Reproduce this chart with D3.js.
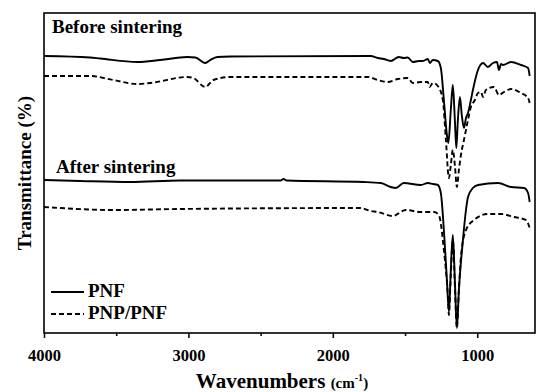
<!DOCTYPE html>
<html><head><meta charset="utf-8">
<script src="https://cdn.jsdelivr.net/npm/d3@7"></script>
<style>
html,body{margin:0;padding:0;background:#fff;}
</style></head>
<body><svg id="chart" width="554" height="392"></svg>
<script>
// Wavenumber (cm-1) / transmittance (arbitrary offset units)
const beforePNF_wn = [4000,3681,3611,3355,3195,3008,2952,2883,2848,2800,2709,1738,1689,1647,1599,1543,1509,1481,1446,1404,1377,1342,1328,1307,1273,1252,1231,1210,1200,1183,1169,1155,1145,1134,1120,1107,1092,1078,1064,1044,1030,995,960,926,891,863,850,835,822,766,697,648,637];
const beforePNF_T  = [277,275.5,274.5,271,273,276,275.5,270,273,276,276.5,277,275,274,272,276,275,275.5,271,272,272,274,270,273,272,265,233,198,190,223,248,213,185,213,236,218,205,215,220,233,243,263,270,266,270,271,263,269,268,271,268,265,257];

const beforePNP_wn = [4000,3681,3521,3355,3264,3008,2966,2883,2827,2709,1758,1689,1620,1550,1481,1446,1391,1342,1331,1307,1273,1238,1217,1196,1183,1169,1155,1141,1127,1113,1092,1064,1044,1016,995,974,960,940,884,850,815,766,697,648,637];
const beforePNP_T  = [257,257,253,249,250,256,255,246,253,256,256,253,251,254,255,250,251,251,246,250,247,233,193,155,168,183,168,146,163,178,193,213,226,233,240,241,236,243,246,238,241,244,240,235,230];

const afterPNF_wn = [4000,3750,3403,3056,2362,2341,2320,1786,1668,1599,1564,1509,1391,1342,1307,1273,1252,1231,1210,1196,1183,1169,1155,1141,1127,1099,1078,1064,1030,995,856,766,676,648,637];
const afterPNF_T  = [153,152,151,152.5,152.5,154,152.5,151,150,146,145,150,148,150,149,148,140,103,53,21,63,98,53,5,43,93,123,136,145,148,150,146,145,140,131];

const afterPNP_wn = [4000,3521,3056,1807,1738,1689,1585,1495,1391,1300,1266,1231,1203,1196,1183,1169,1155,1141,1127,1113,1078,1023,926,835,745,662,637];
const afterPNP_T  = [126,123,124,125,122,121,117,123,121,121,118,83,36,18,58,93,48,5,43,76,103,113,119,119,116,113,105];

const majorTicks = [4000,3000,2000,1000];
const minorTicks = [3500,2500,1500];
const panelLabels = ["Before sintering","After sintering"];
const seriesNames = ["PNF","PNP/PNF"];

const FONT = "'Liberation Serif', 'Times New Roman', Times, serif";
const svg = d3.select("#chart");
const m = {left:44, right:535, top:13, bottom:333};
const x = d3.scaleLinear().domain([4000,600]).range([m.left,m.right]);
const y = d3.scaleLinear().domain([0,320]).range([m.bottom,m.top]);

const line = d3.line().x(d=>x(d[0])).y(d=>y(d[1])).curve(d3.curveMonotoneX);
const zip = (a,b)=>a.map((v,i)=>[v,b[i]]);

const series = [
  {d:zip(beforePNF_wn,beforePNF_T), dash:null},
  {d:zip(beforePNP_wn,beforePNP_T), dash:"5,3"},
  {d:zip(afterPNF_wn,afterPNF_T), dash:null},
  {d:zip(afterPNP_wn,afterPNP_T), dash:"5,3"}
];
series.forEach(s=>{
  svg.append("path").attr("d",line(s.d)).attr("fill","none").attr("stroke","#000")
    .attr("stroke-width",1.9).attr("stroke-dasharray",s.dash);
});

// frame
svg.append("rect").attr("x",m.left).attr("y",m.top).attr("width",m.right-m.left).attr("height",m.bottom-m.top)
  .attr("fill","none").attr("stroke","#000").attr("stroke-width",1.6);

function txt(sel){ return sel.attr("font-family",FONT).attr("font-weight","bold").attr("fill","#000"); }

// bottom axis
const ax = svg.append("g").attr("transform",`translate(0,${m.bottom})`)
  .call(d3.axisBottom(x).tickValues(majorTicks).tickSize(5).tickSizeOuter(0).tickFormat(d3.format("d")));
ax.attr("font-family",FONT);
ax.select(".domain").remove();
ax.selectAll(".tick line").attr("stroke","#000").attr("stroke-width",1.5);
txt(ax.selectAll(".tick text")).attr("font-size",16.5).attr("dy","1.2em");
const axm = svg.append("g").attr("transform",`translate(0,${m.bottom})`)
  .call(d3.axisBottom(x).tickValues(minorTicks).tickSize(3).tickFormat(""));
axm.select(".domain").remove();
axm.selectAll(".tick line").attr("stroke","#000").attr("stroke-width",1.5);

// axis titles
const xt = txt(svg.append("text")).attr("x",282).attr("y",388).attr("text-anchor","middle").attr("font-size",21);
xt.append("tspan").text("Wavenumbers ");
xt.append("tspan").attr("font-size",15).text("(cm");
xt.append("tspan").attr("font-size",10).attr("dy",-7).text("-1");
xt.append("tspan").attr("font-size",15).attr("dy",7).text(")");

txt(svg.append("text")).attr("transform","translate(31,173) rotate(-90)").attr("text-anchor","middle")
  .attr("font-size",19).text("Transmittance (%)");

// panel labels
txt(svg.append("text")).attr("x",52).attr("y",33).attr("font-size",19).text(panelLabels[0]);
txt(svg.append("text")).attr("x",56).attr("y",173).attr("font-size",19).text(panelLabels[1]);

// legend
[[292,null],[314,"5,3"]].forEach((p,i)=>{
  svg.append("line").attr("x1",51).attr("x2",84).attr("y1",p[0]).attr("y2",p[0])
    .attr("stroke","#000").attr("stroke-width",1.8).attr("stroke-dasharray",p[1]);
  txt(svg.append("text")).attr("x",88).attr("y",p[0]+5).attr("font-size",19).text(seriesNames[i]);
});
</script></body></html>
